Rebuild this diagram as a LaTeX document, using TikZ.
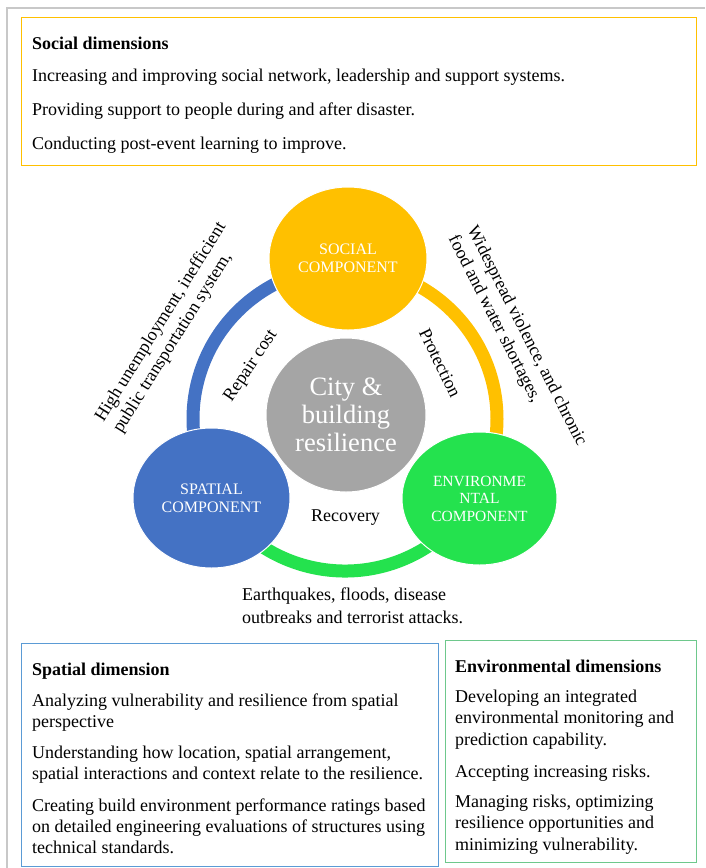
\documentclass[tikz,border=0pt]{standalone}
\usepackage{fontspec}
\setmainfont{Liberation Serif}
\usetikzlibrary{shapes.geometric}
\definecolor{cyel}{HTML}{FFC000}
\definecolor{cblue}{HTML}{4472C4}
\definecolor{cgreen}{RGB}{36,226,78}
\definecolor{cgray}{HTML}{A5A5A5}
\definecolor{bblue}{HTML}{5B9BD5}
\definecolor{bgreen}{RGB}{110,200,140}
\definecolor{cframe}{HTML}{C8C8C8}
\begin{document}
\begin{tikzpicture}[x=1pt,y=1pt,
 txt/.style={anchor=base west,inner sep=0pt,font=\fontsize{18}{21}\selectfont},
 ttl/.style={anchor=base west,inner sep=0pt,font=\fontsize{18}{21}\selectfont\bfseries},
 comp/.style={ellipse,draw=white,line width=1pt,inner sep=0pt,text=white,align=center,font=\fontsize{16}{18}\selectfont},
 ringseg/.style={line width=13pt},
 lbl/.style={inner sep=0pt,font=\fontsize{18}{21}\selectfont,align=left},
 panel/.style={anchor=north west,line width=1pt,inner sep=0pt},
 ]
\useasboundingbox (0,0) rectangle (705,-868);
\fill[white] (0,0) rectangle (705,-868);
\draw[cframe,line width=1.5pt] (7,-868) -- (7,-8) -- (705,-8);

% top panel
\node[panel,draw=cyel,minimum width=675pt,minimum height=148pt] (socbox) at (21,-17) {};
\node[ttl] (st) at (32,-49.5) {Social dimensions};
\node[txt] (s1) at (32,-81.5) {Increasing and improving social network, leadership and support systems.};
\node[txt] (s2) at (32,-115.5) {Providing support to people during and after disaster.};
\node[txt] (s3) at (32,-149.5) {Conducting post-event learning to improve.};

% ring
\coordinate (rc) at (345,-419);
\draw[cblue,ringseg] ([shift={(90:152)}]rc) arc[start angle=90,end angle=210,radius=152];
\draw[cyel,ringseg] ([shift={(90:152)}]rc) arc[start angle=90,end angle=-30,radius=152];
\draw[cgreen,ringseg] ([shift={(210:152)}]rc) arc[start angle=210,end angle=330,radius=152];

% components
\node[comp,fill=cyel,minimum width=158pt,minimum height=143pt] (social) at (348,-258.5) {SOCIAL\\COMPONENT};
\node[comp,fill=cgray,minimum width=160pt,minimum height=154pt,font=\fontsize{26.5}{28}\selectfont] (city) at (346,-415) {City \&\\building\\resilience};
\node[comp,fill=cblue,minimum width=157pt,minimum height=140pt] (spatial) at (211.5,-498) {SPATIAL\\COMPONENT};
\node[comp,fill=cgreen,minimum width=155pt,minimum height=133pt,font=\fontsize{15.5}{17.5}\selectfont] (env) at (479.5,-498.5) {ENVIRONME\\NTAL\\COMPONENT};

% labels
\node[lbl,rotate=58] (hu) at (170,-328) {High unemployment, inefficient\\public transportation system,};
\node[lbl,rotate=56] (rep) at (251,-366) {Repair cost};
\node[lbl,rotate=-64] (prot) at (440,-363) {Protection};
\node[lbl,rotate=-63] (wv) at (517,-341) {Widespread violence, and chronic\\food and water shortages,};
\node[lbl] (rec) at (345.5,-518) {Recovery};
\node[txt] (eq1) at (242,-600) {Earthquakes, floods, disease};
\node[txt] (eq2) at (242,-623) {outbreaks and terrorist attacks.};

% spatial panel
\node[panel,draw=bblue,minimum width=417pt,minimum height=223pt] (spbox) at (21,-643) {};
\node[ttl] (pt) at (32,-675) {Spatial dimension};
\node[txt] (p1) at (32,-706) {Analyzing vulnerability and resilience from spatial};
\node[txt] (p2) at (32,-727) {perspective};
\node[txt] (p3) at (32,-758) {Understanding how location, spatial arrangement,};
\node[txt] (p4) at (32,-779) {spatial interactions and context relate to the resilience.};
\node[txt] (p5) at (32,-811) {Creating build environment performance ratings based};
\node[txt] (p6) at (32,-832) {on detailed engineering evaluations of structures using};
\node[txt] (p7) at (32,-853) {technical standards.};

% environmental panel
\node[panel,draw=bgreen,minimum width=251pt,minimum height=222pt] (envbox) at (445,-640) {};
\node[ttl] (et) at (455,-672) {Environmental dimensions};
\node[txt] (e1) at (455,-702) {Developing an integrated};
\node[txt] (e2) at (455,-723) {environmental monitoring and};
\node[txt] (e3) at (455,-745) {prediction capability.};
\node[txt] (e4) at (455,-777) {Accepting increasing risks.};
\node[txt] (e5) at (455,-807) {Managing risks, optimizing};
\node[txt] (e6) at (455,-828) {resilience opportunities and};
\node[txt] (e7) at (455,-850) {minimizing vulnerability.};
\end{tikzpicture}
\end{document}
